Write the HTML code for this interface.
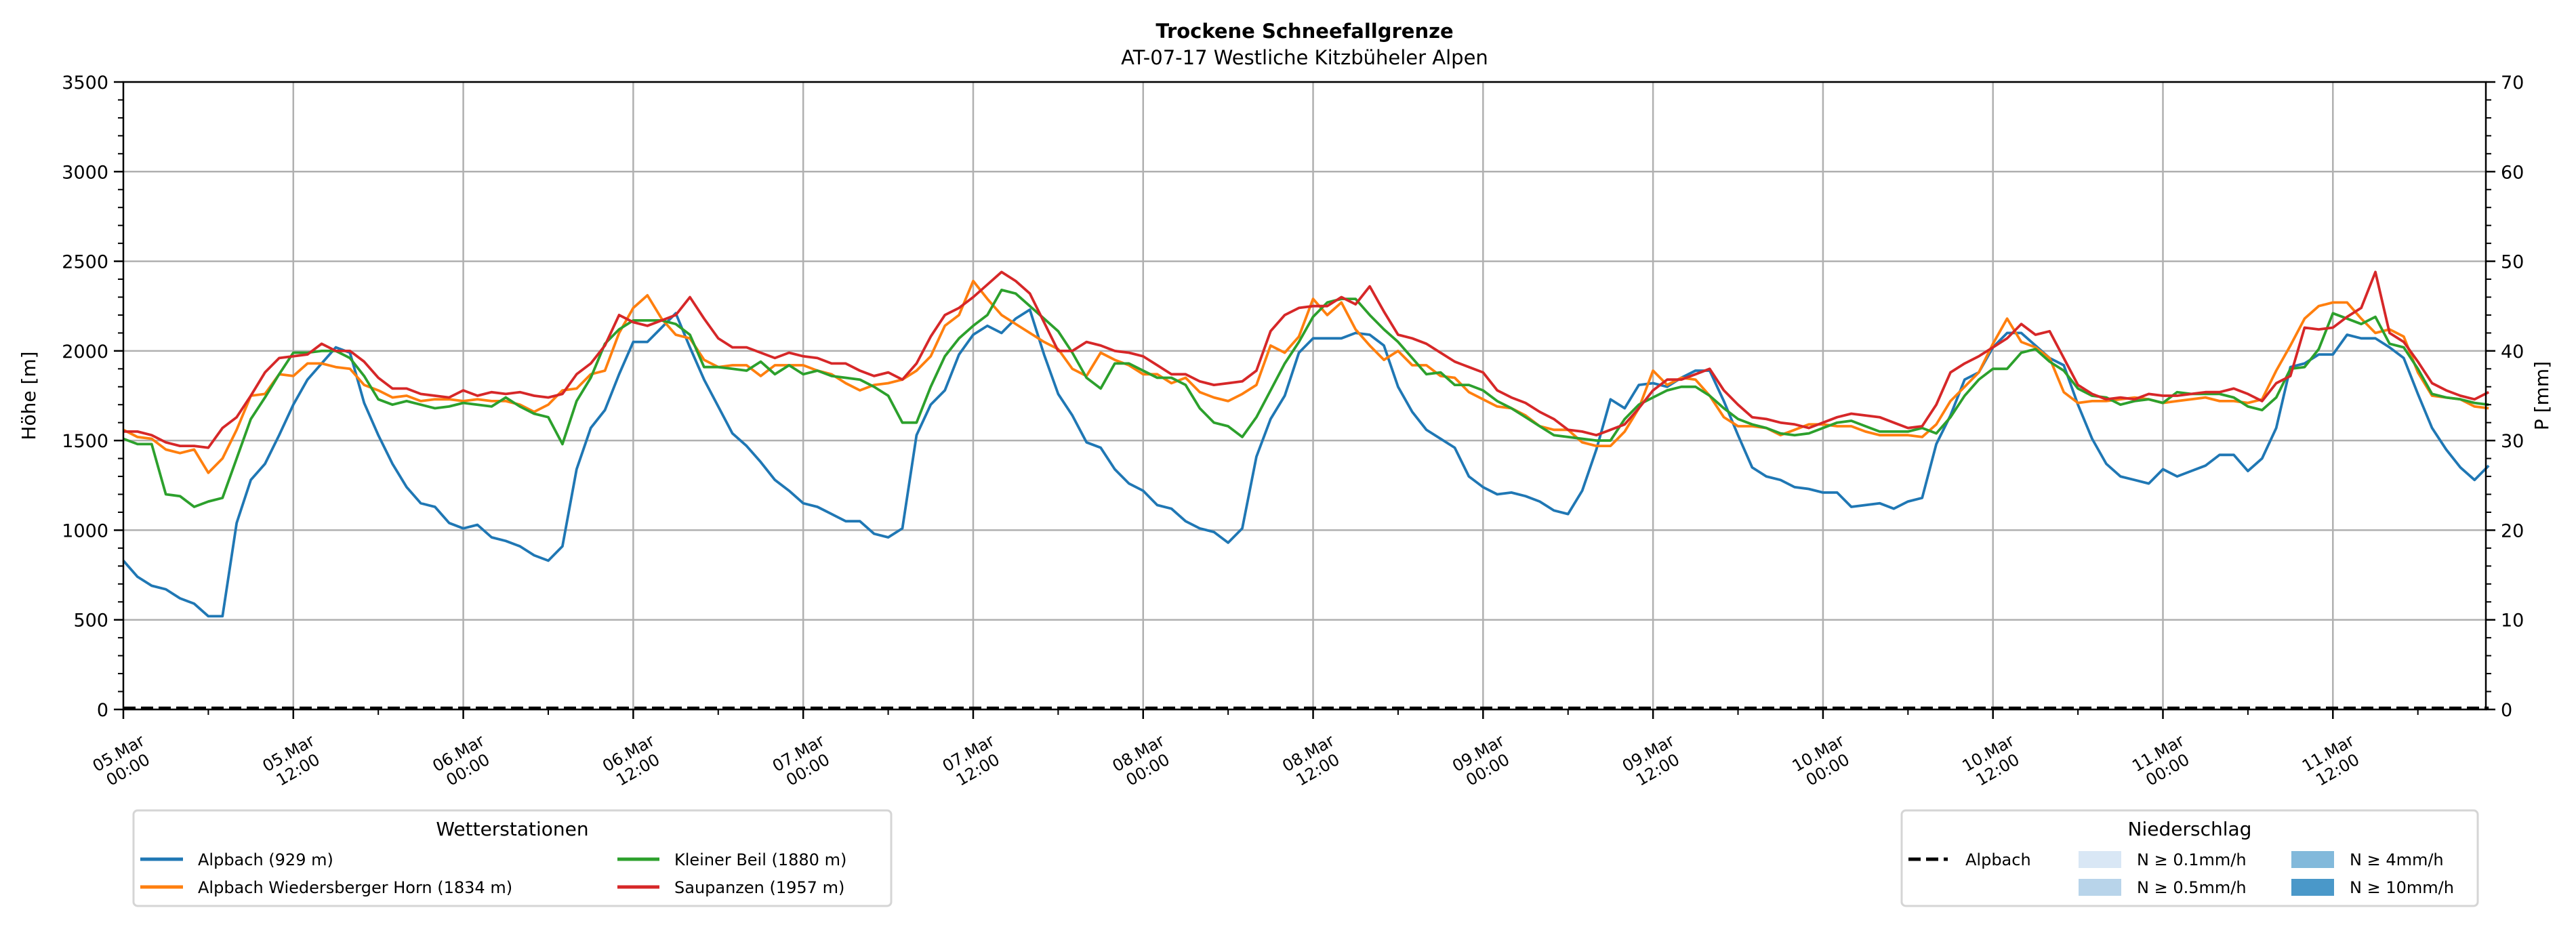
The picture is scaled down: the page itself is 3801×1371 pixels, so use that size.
<!DOCTYPE html>
<html><head><meta charset="utf-8">
<style>
html,body{margin:0;padding:0;background:#fff;}
svg{display:block;font-family:"DejaVu Sans","Liberation Sans",sans-serif;}
</style></head>
<body>
<svg id="chart" xmlns="http://www.w3.org/2000/svg" width="3801" height="1371" viewBox="0 0 3801 1371">
<rect x="0" y="0" width="3801" height="1371" fill="#fff"/>
<text x="1925" y="56" text-anchor="middle" font-size="29" font-weight="bold">Trockene Schneefallgrenze</text>
<text x="1925" y="95" text-anchor="middle" font-size="29">AT-07-17 Westliche Kitzbüheler Alpen</text>
<g id="grid"></g>
<g id="series"></g>
<g id="axes"></g>
<text transform="translate(52,584) rotate(-90)" text-anchor="middle" font-size="28">Höhe [m]</text>
<text transform="translate(3760,584) rotate(-90)" text-anchor="middle" font-size="28">P [mm]</text>

<g>
<rect x="197" y="1196" width="1118" height="141" rx="6" fill="#fff" stroke="#d5d5d5" stroke-width="3"/>
<text x="756" y="1233" text-anchor="middle" font-size="28">Wetterstationen</text>
<line x1="207" y1="1268" x2="270" y2="1268" stroke="#1f77b4" stroke-width="5"/>
<text x="292" y="1277" font-size="24">Alpbach (929 m)</text>
<line x1="207" y1="1309" x2="270" y2="1309" stroke="#ff7f0e" stroke-width="5"/>
<text x="292" y="1318" font-size="24">Alpbach Wiedersberger Horn (1834 m)</text>
<line x1="911" y1="1268" x2="973" y2="1268" stroke="#2ca02c" stroke-width="5"/>
<text x="995" y="1277" font-size="24">Kleiner Beil (1880 m)</text>
<line x1="911" y1="1309" x2="973" y2="1309" stroke="#d62728" stroke-width="5"/>
<text x="995" y="1318" font-size="24">Saupanzen (1957 m)</text>
</g>

<g>
<rect x="2806" y="1196" width="850" height="141" rx="6" fill="#fff" stroke="#d5d5d5" stroke-width="3"/>
<text x="3231" y="1233" text-anchor="middle" font-size="28">Niederschlag</text>
<line x1="2816" y1="1268" x2="2874" y2="1268" stroke="#000" stroke-width="5" stroke-dasharray="18,8"/>
<text x="2900" y="1277" font-size="24">Alpbach</text>
<rect x="3067" y="1256" width="63" height="25" fill="#d9e7f5"/>
<text x="3153" y="1277" font-size="24">N ≥ 0.1mm/h</text>
<rect x="3067" y="1297" width="63" height="25" fill="#b8d4ea"/>
<text x="3153" y="1318" font-size="24">N ≥ 0.5mm/h</text>
<rect x="3381" y="1256" width="63" height="25" fill="#82b9db"/>
<text x="3467" y="1277" font-size="24">N ≥ 4mm/h</text>
<rect x="3381" y="1297" width="63" height="25" fill="#4a98c9"/>
<text x="3467" y="1318" font-size="24">N ≥ 10mm/h</text>
</g>
</svg>
<script>
var hours = [];
for (var i = 0; i < 168; i++) hours.push(i);
var alpbach = [830,740,690,670,620,590,520,520,1040,1280,1370,1530,1700,1840,1930,2020,1990,1710,1530,1370,1240,1150,1130,1040,1010,1030,960,940,910,860,830,910,1340,1570,1670,1870,2050,2050,2130,2210,2020,1840,1690,
1540,1470,1380,1280,1220,1150,1130,1090,1050,1050,980,960,1010,1530,1700,1780,1980,2090,2140,2100,2180,2230,1980,1760,1640,1490,1460,1340,1260,1220,1140,1120,1050,1010,990,930,1010,1410,1620,1750,1990,
2070,2070,2070,2100,2090,2030,1800,1660,1560,1510,1460,1300,1240,1200,1210,1190,1160,1110,1090,1220,1450,1730,1680,1810,1820,1800,1850,1890,1890,1720,1530,1350,1300,1280,1240,1230,1210,1210,1130,1140,1150,1120,
1160,1180,1480,1640,1840,1880,2020,2100,2100,2030,1960,1920,1700,1510,1370,1300,1280,1260,1340,1300,1330,1360,1420,1420,1330,1400,1570,1910,1930,1980,1980,2090,2070,2070,2020,1960,1760,1570,1450,1350,1280,1360];
var wiedersberg = [1560,1520,1510,1450,1430,1450,1320,1400,1560,1750,1760,1870,1860,1930,1930,1910,1900,1810,1780,1740,1750,1720,1730,1730,1720,1730,1720,1720,1700,1660,1700,1780,1790,1870,1890,2100,2240,2310,2180,2090,2070,1950,1910,
1920,1920,1860,1920,1920,1920,1890,1870,1820,1780,1810,1820,1840,1890,1970,2140,2200,2390,2290,2200,2150,2100,2050,2010,1900,1860,1990,1950,1920,1870,1870,1820,1850,1770,1740,1720,1760,1810,2030,1990,2080,
2290,2200,2270,2120,2030,1950,2000,1920,1920,1860,1850,1770,1730,1690,1680,1640,1580,1560,1560,1490,1470,1470,1550,1680,1890,1810,1850,1840,1750,1630,1580,1580,1570,1530,1560,1590,1590,1580,1580,1550,1530,1530,
1530,1520,1590,1720,1800,1880,2040,2180,2050,2020,1960,1770,1710,1720,1720,1730,1740,1730,1710,1720,1730,1740,1720,1720,1710,1730,1890,2030,2180,2250,2270,2270,2180,2100,2120,2080,1880,1750,1740,1730,1690,1680];
var kleinerBeil = [1510,1480,1480,1200,1190,1130,1160,1180,1400,1620,1740,1870,1990,1990,2000,2000,1960,1860,1730,1700,1720,1700,1680,1690,1710,1700,1690,1740,1690,1650,1630,1480,1720,1850,2040,2120,2170,2170,2170,2150,2090,1910,1910,
1900,1890,1940,1870,1920,1870,1890,1860,1850,1840,1800,1750,1600,1600,1800,1970,2070,2140,2200,2340,2320,2250,2180,2110,1990,1850,1790,1930,1930,1890,1850,1850,1810,1680,1600,1580,1520,1630,1780,1930,2050,
2190,2270,2290,2290,2200,2120,2050,1960,1870,1880,1810,1810,1780,1720,1680,1630,1580,1530,1520,1510,1500,1500,1620,1700,1740,1780,1800,1800,1750,1680,1620,1590,1570,1540,1530,1540,1570,1600,1610,1580,1550,1550,
1550,1570,1540,1630,1750,1840,1900,1900,1990,2010,1940,1890,1790,1750,1740,1700,1720,1730,1710,1770,1760,1760,1760,1740,1690,1670,1740,1900,1910,2010,2210,2180,2150,2190,2040,2020,1900,1760,1740,1730,1710,1700];
var saupanzen = [1550,1550,1530,1490,1470,1470,1460,1570,1630,1750,1880,1960,1970,1980,2040,2000,2000,1940,1850,1790,1790,1760,1750,1740,1780,1750,1770,1760,1770,1750,1740,1760,1870,1930,2030,2200,2160,2140,2170,2200,2300,2180,2070,
2020,2020,1990,1960,1990,1970,1960,1930,1930,1890,1860,1880,1840,1930,2080,2200,2240,2300,2370,2440,2390,2320,2160,2000,2000,2050,2030,2000,1990,1970,1920,1870,1870,1830,1810,1820,1830,1890,2110,2200,2240,
2250,2250,2300,2260,2360,2220,2090,2070,2040,1990,1940,1910,1880,1780,1740,1710,1660,1620,1560,1550,1530,1560,1590,1680,1780,1840,1840,1870,1900,1780,1700,1630,1620,1600,1590,1570,1600,1630,1650,1640,1630,1600,
1570,1580,1700,1880,1930,1970,2020,2070,2150,2090,2110,1960,1810,1760,1730,1740,1730,1760,1750,1750,1760,1770,1770,1790,1760,1720,1820,1860,2130,2120,2130,2190,2240,2440,2100,2050,1940,1820,1780,1750,1730,1770];
var precipAlpbach = [];
for (var p = 0; p < 168; p++) precipAlpbach.push(0);
var yTicks = [0,500,1000,1500,2000,2500,3000,3500];
var y2Ticks = [0,10,20,30,40,50,60,70];
var xTickLabels = [["05.Mar","00:00"],["05.Mar","12:00"],["06.Mar","00:00"],["06.Mar","12:00"],["07.Mar","00:00"],["07.Mar","12:00"],["08.Mar","00:00"],["08.Mar","12:00"],["09.Mar","00:00"],["09.Mar","12:00"],["10.Mar","00:00"],["10.Mar","12:00"],["11.Mar","00:00"],["11.Mar","12:00"]];

var NS = "http://www.w3.org/2000/svg";
var X0 = 182, X1 = 3668, YT = 121, YB = 1047;
var HMAX = 166.8;
function sx(h){ return X0 + (X1 - X0) * h / HMAX; }
function sy(v){ return YB - (YB - YT) * v / 3500; }
function sy2(v){ return YB - (YB - YT) * v / 70; }
function mk(tag, attrs, parent){
  var e = document.createElementNS(NS, tag);
  for (var k in attrs) e.setAttribute(k, attrs[k]);
  parent.appendChild(e);
  return e;
}
var grid = document.getElementById('grid');
var axes = document.getElementById('axes');
var series = document.getElementById('series');

yTicks.forEach(function(v){
  var y = sy(v);
  var g = mk('line', {x1:X0, x2:X1, y1:y, y2:y, stroke:'#b0b0b0', 'stroke-width':2.5}, grid);
  
  
  var t = mk('line', {x1:X0-14, x2:X0, y1:y, y2:y, stroke:'#000', 'stroke-width':2.5}, axes);
  
  
  var l = mk('text', {x:X0-22, y:y+10, 'text-anchor':'end', 'font-size':27}, axes);
  l.textContent = v;
  
  
});
for (var m = 0; m <= 3500; m += 100) {
  if (m % 500 === 0) continue;
  var mt = mk('line', {x1:X0-8, x2:X0, y1:sy(m), y2:sy(m), stroke:'#000', 'stroke-width':2}, axes);
  
  
}
y2Ticks.forEach(function(v){
  var y = sy2(v);
  var t = mk('line', {x1:X1, x2:X1+14, y1:y, y2:y, stroke:'#000', 'stroke-width':2.5}, axes);
  
  
  var l = mk('text', {x:X1+22, y:y+10, 'text-anchor':'start', 'font-size':27}, axes);
  l.textContent = v;
  
  
});
for (var m2 = 0; m2 <= 70; m2 += 2) {
  if (m2 % 10 === 0) continue;
  var mt2 = mk('line', {x1:X1, x2:X1+8, y1:sy2(m2), y2:sy2(m2), stroke:'#000', 'stroke-width':2}, axes);
  
  
}
xTickLabels.forEach(function(lab, i){
  var x = sx(i * 12);
  if (i > 0) {
    var g = mk('line', {x1:x, x2:x, y1:YT, y2:YB, stroke:'#b0b0b0', 'stroke-width':2.5}, grid);
    
    
  }
  var t = mk('line', {x1:x, x2:x, y1:YB, y2:YB+14, stroke:'#000', 'stroke-width':2.5}, axes);
  
  
  var txt = mk('text', {transform:'translate(' + x + ',1124) rotate(-30)', 'text-anchor':'middle', 'font-size':24}, axes);
  
  
  var s1 = mk('tspan', {x:0, y:-6}, txt); s1.textContent = lab[0];
  var s2 = mk('tspan', {x:0, y:22}, txt); s2.textContent = lab[1];
});
for (var hm = 6; hm < 167; hm += 12) {
  var xm = mk('line', {x1:sx(hm), x2:sx(hm), y1:YB, y2:YB+8, stroke:'#000', 'stroke-width':2}, axes);
  
  
}
var frame = mk('rect', {x:X0, y:YT, width:X1-X0, height:YB-YT, fill:'none', stroke:'#000', 'stroke-width':2.5}, axes);



function drawLine(vals, color, name){
  var d = '';
  for (var i = 0; i < vals.length; i++) d += (i ? 'L' : 'M') + sx(hours[i]).toFixed(1) + ',' + sy(vals[i]).toFixed(1);
  var p = mk('path', {d:d, fill:'none', stroke:color, 'stroke-width':3.8, 'stroke-linejoin':'round'}, series);
  
  
}
drawLine(alpbach, '#1f77b4', 'line-alpbach');
drawLine(wiedersberg, '#ff7f0e', 'line-wiedersberger-horn');
drawLine(kleinerBeil, '#2ca02c', 'line-kleiner-beil');
drawLine(saupanzen, '#d62728', 'line-saupanzen');

var dp = '';
for (var j = 0; j < precipAlpbach.length; j++) dp += (j ? 'L' : 'M') + sx(hours[j]).toFixed(1) + ',' + (sy2(precipAlpbach[j]) - 2).toFixed(1);
var pl = mk('path', {d:dp, fill:'none', stroke:'#000', 'stroke-width':4.5, 'stroke-dasharray':'18,8'}, series);


</script>
</body></html>
